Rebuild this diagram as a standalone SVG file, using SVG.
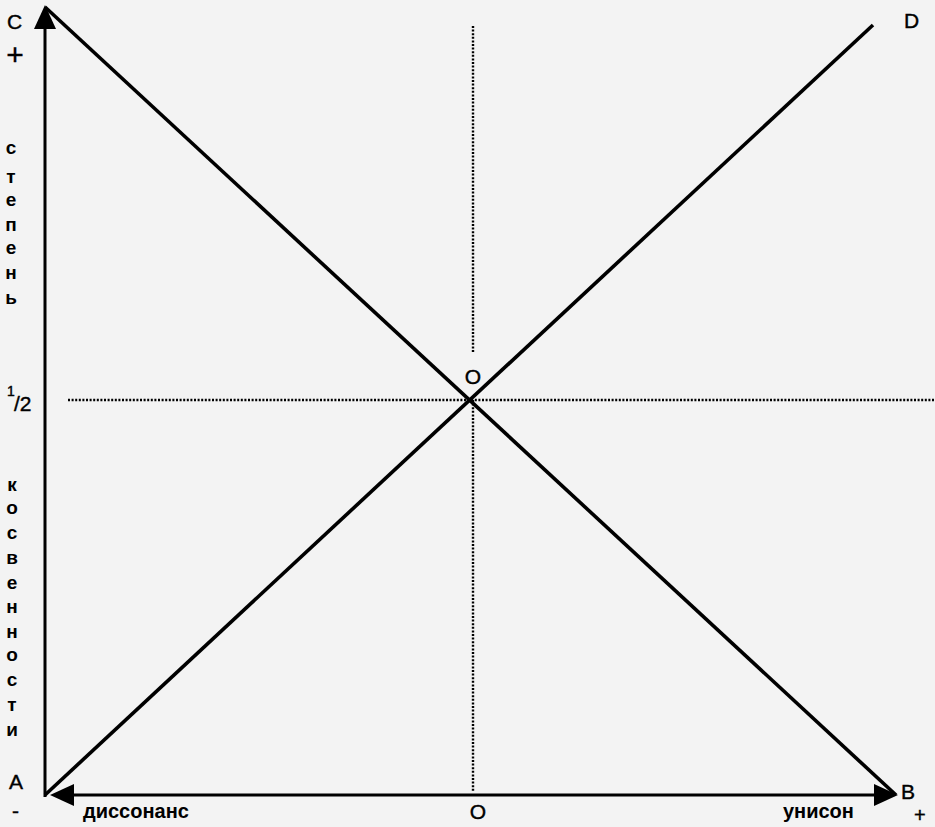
<svg xmlns="http://www.w3.org/2000/svg" width="935" height="827" viewBox="0 0 935 827">
<style>
.bg{fill:#f3f3f3}
.ln{stroke:#000;stroke-width:3.6;fill:none}
.ax{stroke:#000;stroke-width:3;fill:none}
.dot{stroke:#000;stroke-width:2.4;stroke-dasharray:2 1.6;fill:none}
.lbl{font-family:"Liberation Sans",Arial,sans-serif;font-size:21px;fill:#000;stroke:#000;stroke-width:0.4}
.w{font-family:"Liberation Sans",Arial,sans-serif;font-size:20px;font-weight:bold;fill:#000}
.v{font-family:"Liberation Sans",Arial,sans-serif;font-size:19px;font-weight:bold;fill:#000;text-anchor:middle}
</style>
<defs>
<marker id="ah" markerUnits="userSpaceOnUse" markerWidth="40" markerHeight="30" viewBox="-20 -15 40 30" refX="0" refY="0" orient="auto-start-reverse" overflow="visible">
<path d="M10,0 L-14,-11 L-14,11 Z" fill="#000"/>
</marker>
</defs>
<rect class="bg" x="0" y="0" width="935" height="827"/>
<g id="connectors">
<line class="dot" x1="68" y1="400" x2="935" y2="400"/>
<line class="dot" x1="473" y1="26" x2="473" y2="352"/>
<line class="dot" x1="473" y1="400" x2="473" y2="792"/>
<line class="ln" x1="45" y1="7" x2="896" y2="795"/>
<line class="ln" x1="45" y1="795" x2="873" y2="25"/>
<line class="ax" x1="45" y1="797" x2="45" y2="15" marker-end="url(#ah)"/>
<line class="ax" x1="60" y1="795" x2="888" y2="795" marker-start="url(#ah)" marker-end="url(#ah)"/>
</g>
<g id="node-C">
<text class="lbl" x="7" y="29">C</text>
<text class="lbl" x="15" y="65" text-anchor="middle" style="font-size:30px">+</text>
</g>
<g id="node-D">
<text class="lbl" x="904" y="28">D</text>
</g>
<g id="node-A">
<text class="lbl" x="9" y="789">A</text>
<text class="lbl" x="12" y="818">-</text>
</g>
<g id="node-B">
<text class="lbl" x="901" y="799">B</text>
<text class="lbl" x="914" y="822" style="font-size:20px">+</text>
</g>
<g id="node-O-center">
<text class="lbl" x="473" y="384" text-anchor="middle">O</text>
</g>
<g id="node-O-bottom">
<text class="lbl" x="478" y="819" text-anchor="middle">O</text>
</g>
<g id="label-half">
<text class="lbl" x="7" y="396" style="font-size:14px">1</text>
<text class="lbl" x="14" y="411">/2</text>
</g>
<g id="label-stepen">
<text class="v" x="11" y="154">с</text>
<text class="v" x="11" y="183">т</text>
<text class="v" x="11" y="206">е</text>
<text class="v" x="11" y="231">п</text>
<text class="v" x="11" y="254">е</text>
<text class="v" x="11" y="279">н</text>
<text class="v" x="11" y="304">ь</text>
</g>
<g id="label-kosvennosti">
<text class="v" x="12" y="491">к</text>
<text class="v" x="12" y="514">о</text>
<text class="v" x="12" y="539">с</text>
<text class="v" x="12" y="564">в</text>
<text class="v" x="12" y="589">е</text>
<text class="v" x="12" y="613">н</text>
<text class="v" x="12" y="638">н</text>
<text class="v" x="12" y="661">о</text>
<text class="v" x="12" y="686">с</text>
<text class="v" x="12" y="711">т</text>
<text class="v" x="12" y="736">и</text>
</g>
<g id="label-dissonans">
<text class="w" x="83" y="818">диссонанс</text>
</g>
<g id="label-unison">
<text class="w" x="783" y="818">унисон</text>
</g>
</svg>
